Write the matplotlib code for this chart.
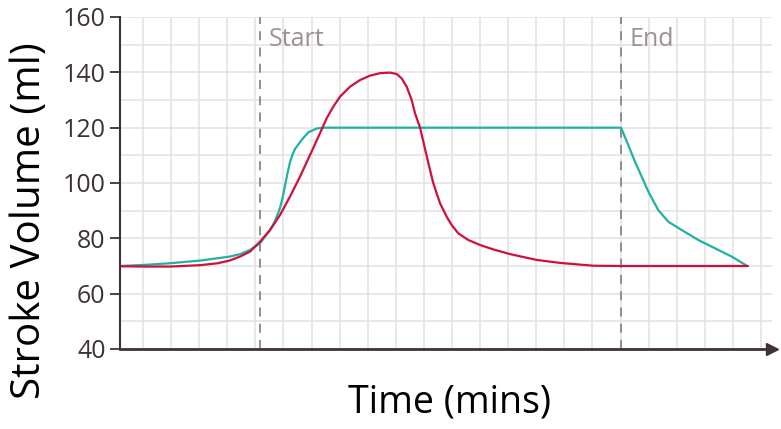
import matplotlib.pyplot as plt
from matplotlib.ticker import MultipleLocator, FixedLocator

# Data (time in mins, stroke volume in ml)
teal_t = [0.0, 0.9, 1.8, 2.9, 3.93, 4.3, 4.646, 5.002, 5.358, 5.447, 5.536, 5.625, 5.714,
          5.803, 5.892, 5.981, 6.07, 6.159, 6.248, 6.486, 6.721, 7.02, 7.3,
          17.853, 18.113, 18.352, 18.59, 18.825, 19.181, 19.537, 20.014, 20.605, 21.2,
          21.794, 22.35]
teal_sv = [70.0, 70.4, 71.0, 72.0, 73.4, 74.3, 75.8, 78.2, 83.0, 84.5, 86.3, 88.5, 91.0,
           94.5, 99.0, 103.5, 107.5, 110.3, 112.3, 115.6, 118.3, 119.7, 120.0,
           120.0, 113.7, 107.7, 102.3, 96.9, 90.2, 86.0, 83.0, 79.4, 76.4,
           73.4, 70.0]

red_t = [0.0, 0.9, 1.8, 2.87, 3.5, 3.93, 4.29, 4.646, 5.002, 5.358, 5.714, 6.07, 6.426,
         6.782, 7.138, 7.376, 7.611, 7.85, 8.206, 8.561, 8.917, 9.273, 9.628, 9.868,
         10.046, 10.224, 10.402, 10.52, 10.7, 10.815, 10.993, 11.171, 11.41, 11.648,
         11.826, 12.061, 12.417, 12.834, 13.307, 13.902, 14.85, 15.7, 16.87, 17.85, 22.37]
red_sv = [69.9, 69.8, 69.8, 70.3, 71.0, 72.0, 73.4, 75.2, 78.8, 83.0, 88.4, 95.1, 102.3,
          110.1, 118.0, 123.4, 127.6, 131.2, 134.8, 137.2, 138.8, 139.7, 139.9, 139.4,
          137.8, 134.8, 130.0, 125.2, 120.0, 115.0, 107.3, 99.9, 92.7, 87.8,
          84.8, 81.8, 79.4, 77.6, 76.0, 74.3, 72.2, 71.1, 70.1, 70.0, 70.0]

start_t = 5.0
end_t = 17.85
markers = [(start_t, "Start"), (end_t, "End")]

yticks = [40, 60, 80, 100, 120, 140, 160]

DARK = "#3d3336"
GRID = "#e2e2e2"

plt.rcParams['font.family'] = ['Open Sans', 'DejaVu Sans']

fig = plt.figure(figsize=(7.81, 4.29), dpi=100)
ax = fig.add_axes([119.5 / 781, 80 / 429, (772 - 119.5) / 781, 332 / 429])

ax.set_xlim(0, (772 - 119.5) / 28.09)
ax.set_ylim(40, 160)

# grid
ax.xaxis.set_minor_locator(FixedLocator([0.837 + k for k in range(23)]))
ax.yaxis.set_minor_locator(MultipleLocator(10))
ax.grid(which='minor', color=GRID, linewidth=1.1)
ax.set_axisbelow(True)
ax.set_xticks([])
ax.set_yticks(yticks)
ax.tick_params(axis='y', which='major', length=7, width=1.3, color=DARK,
               labelsize=18, labelcolor=DARK, pad=3)
ax.tick_params(which='minor', length=0)
ax.tick_params(axis='x', which='both', length=0)
ax.grid(which='major', axis='y', color=GRID, linewidth=1.1)

for s in ['top', 'right']:
    ax.spines[s].set_visible(False)
ax.spines['left'].set_color(DARK)
ax.spines['left'].set_linewidth(1.5)
ax.spines['bottom'].set_color(DARK)
ax.spines['bottom'].set_linewidth(2)
ax.plot(1.0, 0, '>', color=DARK, markersize=9, transform=ax.transAxes, clip_on=False)

# start / end markers
for t, lab in markers:
    ax.axvline(t, color='#8c8486', linestyle=(0, (5, 4)), linewidth=1.3)
    ax.text(t + 0.3, 152, lab, color='#9b9193', fontsize=18, va='center', ha='left')

ax.plot(teal_t, teal_sv, color='#1fb1a1', linewidth=1.6, solid_capstyle='round',
        solid_joinstyle='round')
ax.plot(red_t, red_sv, color='#d0103c', linewidth=1.6, solid_capstyle='round',
        solid_joinstyle='round')

fig.text(30 / 781, 1 - 221 / 429, "Stroke Volume (ml)", rotation=90, fontsize=29,
         ha='center', va='center', color='black')
fig.text(450 / 781, 1 - 403 / 429, "Time (mins)", fontsize=27,
         ha='center', va='center', color='black')

fig.savefig("out.png", dpi=100)
